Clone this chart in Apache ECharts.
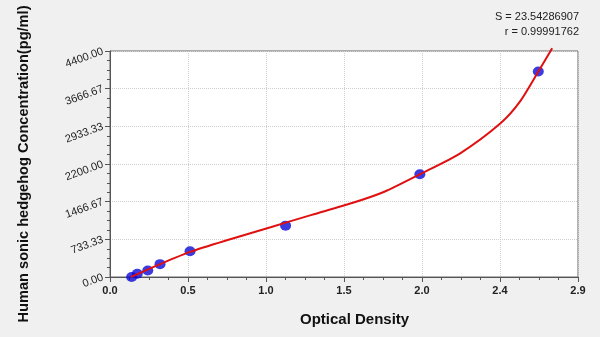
<!DOCTYPE html>
<html>
<head>
<meta charset="utf-8">
<script src="https://cdn.jsdelivr.net/npm/echarts@6/dist/echarts.min.js"></script>
<style>
html,body{margin:0;padding:0;background:#f0f0f0;}
#c{width:600px;height:337px;}
</style>
</head>
<body>
<div id="c"></div>
<script>
// Standard points (OD, concentration pg/ml)
const odValues = [0.134, 0.169, 0.234, 0.31, 0.496, 1.088, 1.92, 2.654];
const concValues = [0, 62.5, 125, 250, 500, 1000, 2000, 4000];
// Fitted curve
const curveOD = [0.13, 0.31, 0.5, 0.75, 1.0, 1.25, 1.5, 1.7, 1.92, 2.17, 2.42, 2.54, 2.66, 2.74];
const curveConc = [0, 250, 493, 740, 975, 1210, 1440, 1660, 2000, 2408, 2992, 3413, 4030, 4453];
const xTickLabels = ['0.0', '0.5', '1.0', '1.5', '2.0', '2.4', '2.9'];
const statS = 'S = 23.54286907';
const statR = 'r = 0.99991762';

const xMax = 2.9, xInt = 2.9 / 6;
const yMax = 4400, yInt = 4400 / 6;

const chart = echarts.init(document.getElementById('c'));
chart.setOption({
  backgroundColor: '#f0f0f0',
  animation: false,
  grid: {left: 110, right: 22, top: 51, bottom: 60, show: true, backgroundColor: '#ffffff', borderColor: '#666', borderWidth: 1},
  graphic: [
    {type: 'text', right: 21, top: 11, style: {text: statS, font: '11px Arial, "Liberation Sans"', fill: '#222', textAlign: 'right'}},
    {type: 'text', right: 21, top: 26, style: {text: statR, font: '11px Arial, "Liberation Sans"', fill: '#222', textAlign: 'right'}},
    {type: 'text', left: 300, top: 312, style: {text: 'Optical Density', font: 'bold 15px Arial, "Liberation Sans"', fill: '#111', textAlign: 'center'}}
  ],
  xAxis: {
    type: 'value', min: 0, max: xMax, interval: xInt,
    axisLine: {show: true, lineStyle: {color: '#555'}},
    axisTick: {show: true, length: 5, lineStyle: {color: '#555'}},
    minorTick: {show: true, splitNumber: 4, length: 3, lineStyle: {color: '#555'}},
    splitLine: {show: true, lineStyle: {color: '#d0d0d0', type: 'dotted'}},
    axisLabel: {
      color: '#222', fontSize: 11, fontWeight: 'bold', fontFamily: 'Arial, "Liberation Sans"', margin: 8,
      formatter: v => xTickLabels[Math.round(v / xInt)] || ''
    }
  },
  yAxis: {
    type: 'value', min: 0, max: yMax, interval: yInt,
    name: 'Human sonic hedgehog Concentration(pg/ml)', nameLocation: 'middle', nameGap: 79,
    nameTextStyle: {fontSize: 14.6, fontWeight: 'bold', color: '#111', fontFamily: 'Arial, "Liberation Sans"'},
    axisLine: {show: true, lineStyle: {color: '#555'}},
    axisTick: {show: true, length: 5, lineStyle: {color: '#555'}},
    minorTick: {show: true, splitNumber: 4, length: 3, lineStyle: {color: '#555'}},
    splitLine: {show: true, lineStyle: {color: '#d0d0d0', type: 'dotted'}},
    axisLabel: {
      color: '#222', fontSize: 11, fontFamily: 'Arial, "Liberation Sans"', rotate: 20, margin: 7,
      formatter: v => v.toFixed(2)
    }
  },
  series: [
    {
      type: 'line', data: curveOD.map((x, i) => [x, curveConc[i]]),
      smooth: 0.25, showSymbol: false, clip: false,
      lineStyle: {color: '#e01010', width: 2}, z: 3
    },
    {
      type: 'scatter', data: odValues.map((x, i) => [x, concValues[i]]),
      symbol: 'circle', symbolSize: [11, 10],
      itemStyle: {color: '#0a0ad8'}, z: 2
    }
  ]
});
</script>
</body>
</html>
